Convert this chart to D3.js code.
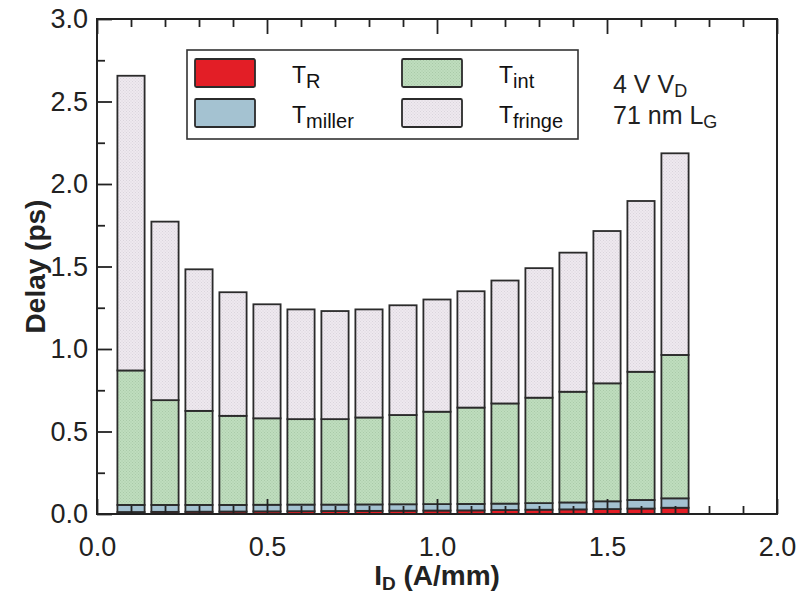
<!DOCTYPE html>
<html>
<head>
<meta charset="utf-8">
<script src="https://cdn.jsdelivr.net/npm/d3@7"></script>
<style>
  body { margin: 0; background: #fff; }
  svg { display: block; font-family: "Liberation Sans", Arial, sans-serif; }
</style>
</head>
<body>
<svg id="chart" width="798" height="593"></svg>
<script>
// drain current (A/mm), one bar per value
var current = [0.1, 0.2, 0.3, 0.4, 0.5, 0.6, 0.7, 0.8, 0.9, 1.0, 1.1, 1.2, 1.3, 1.4, 1.5, 1.6, 1.7];

// delay components (ps)
var tR      = [0.012, 0.013, 0.014, 0.015, 0.016, 0.017, 0.018, 0.019, 0.020, 0.021, 0.022, 0.024, 0.026, 0.028, 0.030, 0.033, 0.038];
var tMiller = [0.043, 0.042, 0.041, 0.040, 0.040, 0.040, 0.039, 0.039, 0.039, 0.039, 0.039, 0.039, 0.040, 0.042, 0.047, 0.052, 0.057];
var tInt    = [0.815, 0.635, 0.570, 0.540, 0.524, 0.518, 0.518, 0.527, 0.541, 0.560, 0.584, 0.607, 0.639, 0.671, 0.715, 0.777, 0.869];
var tFringe = [1.786, 1.082, 0.858, 0.749, 0.691, 0.665, 0.655, 0.655, 0.665, 0.680, 0.705, 0.745, 0.785, 0.843, 0.923, 1.035, 1.222];

var keys = ['tR', 'tMiller', 'tInt', 'tFringe'];

var xMajor = [0, 0.5, 1.0, 1.5, 2.0];
var xMinor = [0.1, 0.2, 0.3, 0.4, 0.6, 0.7, 0.8, 0.9, 1.1, 1.2, 1.3, 1.4, 1.6, 1.7, 1.8, 1.9];
var yMajor = [0, 0.5, 1.0, 1.5, 2.0, 2.5, 3.0];
var yMinor = [0.25, 0.75, 1.25, 1.75, 2.25, 2.75];

var plotLeft = 97, plotTop = 19, plotRight = 777, plotBottom = 514;
var barWidth = 0.08;

var xs = d3.scaleLinear().domain([0, 2]).range([plotLeft, plotRight]);
var ys = d3.scaleLinear().domain([0, 3]).range([plotBottom, plotTop]);

var svg = d3.select('#chart');

// stippled fills
var defs = svg.append('defs');
function stipple(id, base, dot) {
    var p = defs.append('pattern')
        .attr('id', id)
        .attr('width', 3).attr('height', 3)
        .attr('patternUnits', 'userSpaceOnUse');
    p.append('rect').attr('width', 3).attr('height', 3).attr('fill', base);
    p.append('rect').attr('x', 0).attr('y', 0).attr('width', 1).attr('height', 1).attr('fill', dot);
    p.append('rect').attr('x', 1.5).attr('y', 1.5).attr('width', 1).attr('height', 1).attr('fill', dot);
}
stipple('greenDots', '#bfddbe', '#a9caa8');
stipple('fringeDots', '#eee9ef', '#dad4dc');

var fills = {
    tR: '#e31e26',
    tMiller: '#a4c2d1',
    tInt: 'url(#greenDots)',
    tFringe: 'url(#fringeDots)'
};

var rows = current.map(function (c, i) {
    return { id: c, tR: tR[i], tMiller: tMiller[i], tInt: tInt[i], tFringe: tFringe[i] };
});

var stacked = d3.stack().keys(keys)(rows);

//bars
svg.append('g')
    .selectAll('g').data(stacked)
    .enter()
    .append('g')
    .attr('fill', function (d) { return fills[d.key]; })
    .selectAll('rect').data(function (d) { return d; })
    .enter()
    .append('rect')
    .attr('x', function (d) { return xs(d.data.id - barWidth / 2); })
    .attr('width', xs(barWidth) - xs(0))
    .attr('y', function (d) { return ys(d[1]); })
    .attr('height', function (d) { return ys(d[0]) - ys(d[1]); })
    .attr('stroke', '#2b2b2b')
    .attr('stroke-width', 1.8);

//axes, ticks pointing inward
function styleAxis(g) {
    g.select('.domain').remove();
    g.selectAll('line').attr('stroke', '#222').attr('stroke-width', 1.8);
    g.selectAll('text').attr('fill', '#222').style('font-size', '27px');
}

svg.append('g')
    .attr('transform', 'translate(0,' + plotBottom + ')')
    .call(d3.axisBottom(xs).tickValues(xMajor).tickSize(-15).tickFormat(d3.format('.1f')))
    .call(styleAxis)
    .selectAll('text').attr('y', 42).attr('dy', null);

svg.append('g')
    .attr('transform', 'translate(0,' + plotBottom + ')')
    .call(d3.axisBottom(xs).tickValues(xMinor).tickSize(-8).tickFormat(''))
    .call(styleAxis);

svg.append('g')
    .attr('transform', 'translate(0,' + plotTop + ')')
    .call(d3.axisTop(xs).tickValues(xMajor).tickSize(-15).tickFormat(''))
    .call(styleAxis);

svg.append('g')
    .attr('transform', 'translate(0,' + plotTop + ')')
    .call(d3.axisTop(xs).tickValues(xMinor).tickSize(-8).tickFormat(''))
    .call(styleAxis);

svg.append('g')
    .attr('transform', 'translate(' + plotLeft + ',0)')
    .call(d3.axisLeft(ys).tickValues(yMajor).tickSize(-15).tickPadding(9).tickFormat(d3.format('.1f')))
    .call(styleAxis);

svg.append('g')
    .attr('transform', 'translate(' + plotLeft + ',0)')
    .call(d3.axisLeft(ys).tickValues(yMinor).tickSize(-8).tickFormat(''))
    .call(styleAxis);

//frame
svg.append('rect')
    .attr('x', plotLeft).attr('y', plotTop)
    .attr('width', plotRight - plotLeft).attr('height', plotBottom - plotTop)
    .attr('fill', 'none')
    .attr('stroke', '#222')
    .attr('stroke-width', 2);

//axis titles
svg.append('text')
    .attr('text-anchor', 'middle')
    .attr('transform', 'translate(45,' + ((plotTop + plotBottom) / 2) + ') rotate(-90)')
    .style('font-size', '28px')
    .style('font-weight', 'bold')
    .attr('fill', '#222')
    .text('Delay (ps)');

var xt = svg.append('text')
    .attr('text-anchor', 'middle')
    .attr('x', (plotLeft + plotRight) / 2)
    .attr('y', 585)
    .style('font-size', '28px')
    .style('font-weight', 'bold')
    .attr('fill', '#222');
xt.append('tspan').text('I');
xt.append('tspan').attr('dy', 5).style('font-size', '19px').text('D');
xt.append('tspan').attr('dy', -5).text(' (A/mm)');

//legend
var legend = svg.append('g');
legend.append('rect')
    .attr('x', 187).attr('y', 50)
    .attr('width', 391).attr('height', 89)
    .attr('fill', '#fff')
    .attr('stroke', '#333')
    .attr('stroke-width', 1.6);

var legendItems = [
    { key: 'tR', main: 'T', sub: 'R', x: 195, y: 59 },
    { key: 'tMiller', main: 'T', sub: 'miller', x: 195, y: 99 },
    { key: 'tInt', main: 'T', sub: 'int', x: 402, y: 59 },
    { key: 'tFringe', main: 'T', sub: 'fringe', x: 402, y: 99 }
];

legendItems.forEach(function (d) {
    legend.append('rect')
        .attr('x', d.x).attr('y', d.y)
        .attr('width', 60).attr('height', 28)
        .attr('rx', 1.5)
        .attr('fill', fills[d.key])
        .attr('stroke', '#2b2b2b')
        .attr('stroke-width', 1.8);
    var t = legend.append('text')
        .attr('x', d.x + 97)
        .attr('y', d.y + 24)
        .attr('fill', '#111')
        .style('font-size', '23px');
    t.append('tspan').text(d.main);
    t.append('tspan').attr('dy', 5).style('font-size', '20px').text(d.sub);
});

//bias annotation
var a1 = svg.append('text').attr('x', 613).attr('y', 93).attr('fill', '#222').style('font-size', '25px');
a1.append('tspan').text('4 V V');
a1.append('tspan').attr('dy', 4).style('font-size', '18px').text('D');

var a2 = svg.append('text').attr('x', 613).attr('y', 124).attr('fill', '#222').style('font-size', '25px');
a2.append('tspan').text('71 nm L');
a2.append('tspan').attr('dy', 4).style('font-size', '18px').text('G');
</script>
</body>
</html>
